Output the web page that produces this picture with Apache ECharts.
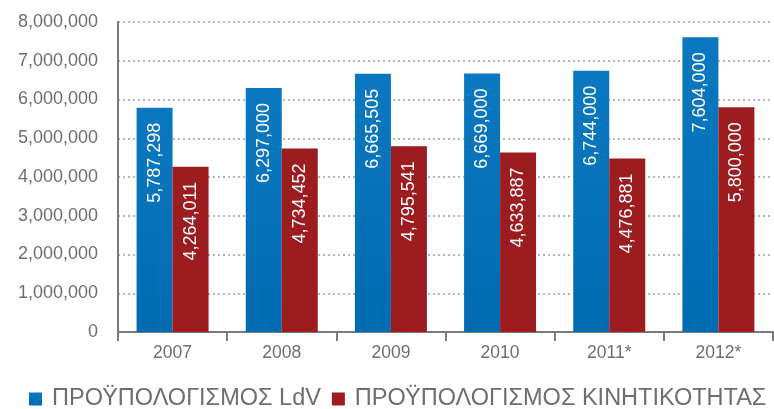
<!DOCTYPE html>
<html>
<head>
<meta charset="utf-8">
<script src="https://cdn.jsdelivr.net/npm/echarts@6/dist/echarts.min.js"></script>
<style>
  html, body { margin: 0; padding: 0; background: #fff; }
  #chart { width: 774px; height: 409px; }
</style>
</head>
<body>
<div id="chart"></div>
<script>
var years = ['2007', '2008', '2009', '2010', '2011*', '2012*'];
var ldvBudget = [5787298, 6297000, 6665505, 6669000, 6744000, 7604000];
var mobilityBudget = [4264011, 4734452, 4795541, 4633887, 4476881, 5800000];
var seriesNames = ['ΠΡΟΫΠΟΛΟΓΙΣΜΟΣ LdV', 'ΠΡΟΫΠΟΛΟΓΙΣΜΟΣ ΚΙΝΗΤΙΚΟΤΗΤΑΣ'];

var font = 'Liberation Sans, Arial, Helvetica, sans-serif';
var grey = '#6e6e6e';

function fmt(v) {
    return v.toString().replace(/\B(?=(\d{3})+(?!\d))/g, ',');
}

var barLabel = {
    show: true,
    position: 'insideTop',
    distance: 15,
    rotate: 90,
    align: 'right',
    verticalAlign: 'middle',
    color: '#fff',
    fontSize: 18,
    fontFamily: font,
    formatter: function (p) { return fmt(p.value); }
};

var myChart = echarts.init(document.getElementById('chart'));
myChart.setOption({
    animation: false,
    grid: { left: 118, right: 1, top: 22, bottom: 77 },
    legend: {
        left: 29,
        top: 387,
        padding: 0,
        itemWidth: 13,
        itemHeight: 13,
        itemGap: 11,
        icon: 'rect',
        textStyle: { color: grey, fontSize: 23.5, lineHeight: 24, fontFamily: font, padding: [0, 0, 0, 5] },
        data: seriesNames
    },
    xAxis: {
        type: 'category',
        data: years,
        axisLine: { lineStyle: { color: '#7a7a7a', width: 2 } },
        axisTick: { show: true, length: 9, lineStyle: { color: '#7a7a7a', width: 2 } },
        axisLabel: { color: grey, fontSize: 17.5, fontFamily: font, margin: 12 }
    },
    yAxis: {
        type: 'value',
        min: 0,
        max: 8000000,
        interval: 1000000,
        axisLine: { show: true, lineStyle: { color: '#7a7a7a', width: 2 } },
        axisTick: { show: false },
        axisLabel: { color: grey, fontSize: 18, fontFamily: font, margin: 20, formatter: fmt },
        splitLine: { show: true, lineStyle: { color: '#a0a0a0', type: [2, 3], width: 1.5 } }
    },
    series: [
        {
            name: seriesNames[0],
            type: 'bar',
            data: ldvBudget,
            barWidth: 36,
            barGap: '0%',
            itemStyle: {
                color: new echarts.graphic.LinearGradient(0, 0, 0, 1, [
                    { offset: 0, color: '#0a78c0' },
                    { offset: 1, color: '#006bb1' }
                ])
            },
            label: barLabel
        },
        {
            name: seriesNames[1],
            type: 'bar',
            data: mobilityBudget,
            barWidth: 36,
            barGap: '0%',
            itemStyle: { color: '#9c1c1f' },
            label: barLabel
        }
    ]
});
</script>
</body>
</html>
